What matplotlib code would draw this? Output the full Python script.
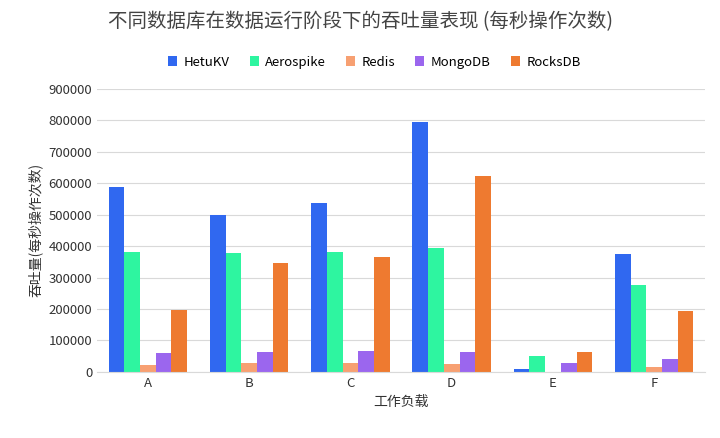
import matplotlib
matplotlib.use("Agg")
import matplotlib.pyplot as plt
import numpy as np

plt.rcParams['font.family'] = ['Noto Sans CJK SC', 'DejaVu Sans']

categories = ["A", "B", "C", "D", "E", "F"]
series_names = ["HetuKV", "Aerospike", "Redis", "MongoDB", "RocksDB"]
hetukv = [589000, 500000, 538000, 796000, 8000, 376000]
aerospike = [382000, 379000, 382000, 395000, 51000, 277000]
redis = [22000, 28000, 28000, 25000, 0, 16000]
mongodb = [60000, 63000, 66000, 63000, 28000, 41000]
rocksdb = [197000, 347000, 366000, 624000, 64000, 194000]
colors = ["#3068f0", "#2ef5a0", "#f7a072", "#9b66ee", "#ee7a30"]

data = [hetukv, aerospike, redis, mongodb, rocksdb]

fig = plt.figure(figsize=(7.2, 4.38), dpi=100)
ax = fig.add_axes([0.135, 0.151, 0.844, 0.646])
x = np.arange(len(categories))
w = 0.155
for i, (name, vals, c) in enumerate(zip(series_names, data, colors)):
    ax.bar(x + (i - 2) * w, vals, w, color=c, label=name)

ax.set_xlim(-0.5, 5.5)
ax.set_ylim(0, 900000)
ax.set_yticks(np.arange(0, 900001, 100000))
ax.set_xticks(x)
ax.set_xticklabels(categories)
ax.grid(axis='y', color='#d9d9d9', linewidth=0.8)
ax.set_axisbelow(True)
for s in ['top', 'right', 'left']:
    ax.spines[s].set_visible(False)
ax.spines['bottom'].set_color('#d9d9d9')
ax.tick_params(length=0, labelsize=9.5, colors='#333333')
ax.set_xlabel("工作负载", fontsize=10, color='#333333')
ax.set_ylabel("吞吐量(每秒操作次数)", fontsize=10, color='#333333')
fig.text(0.5, 0.95, "不同数据库在数据运行阶段下的吞吐量表现 (每秒操作次数)", ha='center', va='center', fontsize=14, color='#444444')
fig.legend(loc='center', bbox_to_anchor=(0.52, 0.858), ncol=5, frameon=False, fontsize=9.5,
           handlelength=0.7, handleheight=0.7, columnspacing=1.5, handletextpad=0.5)
fig.savefig("out.png", dpi=100)
